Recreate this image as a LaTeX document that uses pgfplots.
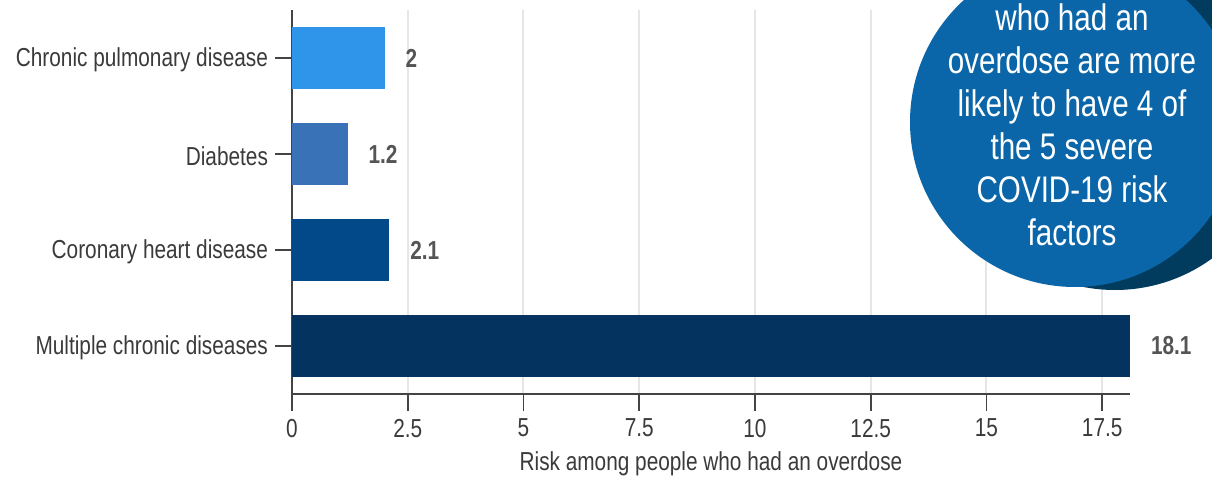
\documentclass[border=0pt]{standalone}
\usepackage{pgfplots}
\pgfplotsset{compat=1.18}
\usepackage{fontspec}
\setmainfont{Liberation Sans}[FakeStretch=0.8]
\definecolor{cA}{HTML}{2F95EA}
\definecolor{cB}{HTML}{3A72B8}
\definecolor{cC}{HTML}{02498A}
\definecolor{cD}{HTML}{04335F}
\definecolor{txt}{HTML}{3A3A3A}
\definecolor{vtxt}{HTML}{555555}
\definecolor{axc}{HTML}{444444}
\definecolor{gridc}{HTML}{E6E6E6}
\definecolor{circ}{HTML}{0A66A8}
\definecolor{shad}{HTML}{013B5E}
\begin{document}
\begin{tikzpicture}
\path[use as bounding box] (0,0) rectangle (606pt,238.5pt);
\begin{axis}[
  at={(146pt,41.5pt)}, anchor=south west,
  scale only axis, width=419pt, height=192pt,
  xmin=0, xmax=18.1, ymin=-0.5, ymax=3.5,
  xbar, bar width=31pt, bar shift=0pt,
  axis lines*=left,
  axis line style={-, draw=axc, line width=1pt},
  xtick={0,2.5,5,7.5,10,12.5,15,17.5},
  ytick={0,1,2,3},
  yticklabels={Multiple chronic diseases, Coronary heart disease, Diabetes, Chronic pulmonary disease},
  xmajorgrids, grid style={draw=gridc, line width=1pt},
  tick style={draw=axc, line width=0.8pt},
  major tick length=8.5pt,
  tick align=outside,
  /pgf/number format/assume math mode=true,
  ticklabel style={font=\fontsize{13pt}{15pt}\selectfont, text=txt},
  xticklabel style={yshift=-0.5pt},
  yticklabel style={yshift=-1pt},
  xlabel={Risk among people who had an overdose},
  xlabel style={font=\fontsize{13pt}{15pt}\selectfont, text=txt, yshift=0pt},
  nodes near coords,
  every node near coord/.append style={font=\fontsize{13pt}{15pt}\selectfont\bfseries, text=vtxt, xshift=7pt},
]
\addplot[draw=none, fill=cD] coordinates {(18.1,0)};
\addplot[draw=none, fill=cC] coordinates {(2.1,1)};
\addplot[draw=none, fill=cB] coordinates {(1.2,2)};
\addplot[draw=none, fill=cA] coordinates {(2,3)};
\end{axis}
\begin{scope}
\clip (0,0) rectangle (606pt,238.5pt);
\fill[shad] (557.5pt,176pt) circle (82.5pt);
\fill[circ] (537.5pt,177.5pt) circle (82.5pt);
\node[text=white, align=center, font=\fontsize{18.5pt}{21.5pt}\selectfont] at (536pt,176pt)
  {who had an\\overdose are more\\likely to have 4 of\\the 5 severe\\COVID-19 risk\\factors};
\end{scope}
\end{tikzpicture}
\end{document}
